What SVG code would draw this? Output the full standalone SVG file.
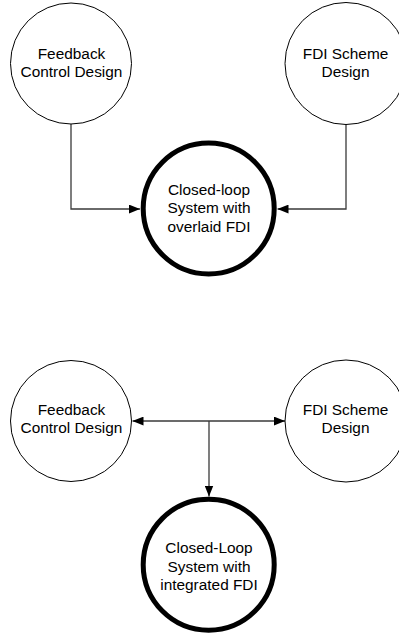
<svg xmlns="http://www.w3.org/2000/svg" width="399" height="638" viewBox="0 0 399 638">
<style>
.n{fill:#fff;stroke:#000;stroke-width:1}
.k{fill:#fff;stroke:#000;stroke-width:5}
.t{font-family:"Liberation Sans",Arial,sans-serif;font-size:15.4px;fill:#000;text-anchor:middle}
.c{fill:none;stroke:#3a3a3a;stroke-width:1.3}
</style>
<defs>
<marker id="ah" markerUnits="userSpaceOnUse" markerWidth="11" markerHeight="9" refX="10" refY="4" orient="auto-start-reverse" viewBox="0 0 10 8">
<path d="M0,0 L10,4 L0,8 Z" fill="#000"/>
</marker>
</defs>
<rect width="399" height="638" fill="#fff"/>
<g id="connectors">
<path class="c" d="M71,124 V209 H140" marker-end="url(#ah)"/>
<path class="c" d="M346,124 V209 H277.5" marker-end="url(#ah)"/>
<path class="c" d="M132.5,421 H285" marker-start="url(#ah)" marker-end="url(#ah)"/>
<path class="c" d="M209,421 V496.5" marker-end="url(#ah)"/>
</g>
<g id="fb1">
<circle class="n" cx="71" cy="63.5" r="60.5"/>
<text class="t" x="71.5" y="59.3">Feedback</text>
<text class="t" x="71.5" y="77.3">Control Design</text>
</g>
<g id="fdi1">
<circle class="n" cx="346" cy="63.5" r="61"/>
<text class="t" x="345.5" y="59.3">FDI Scheme</text>
<text class="t" x="345.5" y="77.3">Design</text>
</g>
<g id="cl1">
<circle class="k" cx="208.7" cy="208.5" r="65.5"/>
<text class="t" x="209" y="195">Closed-loop</text>
<text class="t" x="209" y="213.4">System with</text>
<text class="t" x="209" y="231.8">overlaid FDI</text>
</g>
<g id="fb2">
<circle class="n" cx="71" cy="421" r="60.5"/>
<text class="t" x="71.5" y="415">Feedback</text>
<text class="t" x="71.5" y="433.3">Control Design</text>
</g>
<g id="fdi2">
<circle class="n" cx="346" cy="421" r="61"/>
<text class="t" x="345.5" y="415">FDI Scheme</text>
<text class="t" x="345.5" y="433.3">Design</text>
</g>
<g id="cl2">
<circle class="k" cx="208.7" cy="564.7" r="65.5"/>
<text class="t" x="209" y="553.3">Closed-Loop</text>
<text class="t" x="209" y="571.7">System with</text>
<text class="t" x="209" y="590">integrated FDI</text>
</g>
</svg>
